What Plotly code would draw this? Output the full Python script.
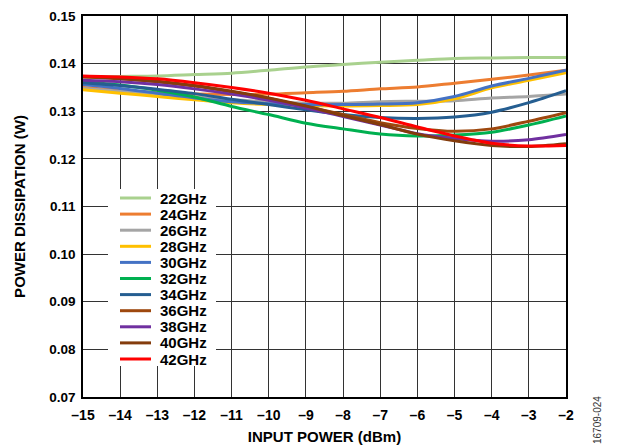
import plotly.graph_objects as go

x_dbm = [-15, -14, -13, -12, -11, -10, -9, -8, -7, -6, -5, -4, -3, -2]

series_names = ["22GHz", "24GHz", "26GHz", "28GHz", "30GHz", "32GHz",
                "34GHz", "36GHz", "38GHz", "40GHz", "42GHz"]

p22 = [0.1372, 0.1373, 0.1374, 0.1377, 0.1380, 0.1386, 0.1393, 0.1398, 0.1403, 0.1407, 0.1411, 0.1412, 0.1413, 0.1413]
p24 = [0.1350, 0.1344, 0.1339, 0.1336, 0.1335, 0.1336, 0.1339, 0.1342, 0.1347, 0.1351, 0.1359, 0.1367, 0.1376, 0.1386]
p26 = [0.1348, 0.1342, 0.1336, 0.1330, 0.1324, 0.1320, 0.1317, 0.1317, 0.1320, 0.1321, 0.1322, 0.1328, 0.1331, 0.1336]
p28 = [0.1345, 0.1338, 0.1331, 0.1324, 0.1318, 0.1314, 0.1312, 0.1311, 0.1312, 0.1314, 0.1326, 0.1349, 0.1365, 0.1381]
p30 = [0.1356, 0.1348, 0.1338, 0.1328, 0.1320, 0.1316, 0.1314, 0.1314, 0.1315, 0.1318, 0.1331, 0.1353, 0.1369, 0.1386]
p32 = [0.1362, 0.1355, 0.1344, 0.1330, 0.1310, 0.1293, 0.1275, 0.1263, 0.1252, 0.1248, 0.1250, 0.1256, 0.1271, 0.1290]
p34 = [0.1360, 0.1354, 0.1346, 0.1337, 0.1325, 0.1314, 0.1303, 0.1293, 0.1287, 0.1285, 0.1288, 0.1298, 0.1318, 0.1343]
p36 = [0.1372, 0.1368, 0.1362, 0.1353, 0.1341, 0.1327, 0.1310, 0.1293, 0.1276, 0.1264, 0.1258, 0.1263, 0.1279, 0.1297]
p38 = [0.1365, 0.1362, 0.1356, 0.1347, 0.1336, 0.1323, 0.1307, 0.1289, 0.1271, 0.1253, 0.1243, 0.1237, 0.1240, 0.1251]
p40 = [0.1373, 0.1369, 0.1363, 0.1354, 0.1342, 0.1328, 0.1311, 0.1291, 0.1272, 0.1252, 0.1238, 0.1228, 0.1226, 0.1232]
p42 = [0.1374, 0.1372, 0.1368, 0.1360, 0.1350, 0.1338, 0.1323, 0.1305, 0.1287, 0.1267, 0.1248, 0.1233, 0.1227, 0.1228]

series_values = [p22, p24, p26, p28, p30, p32, p34, p36, p38, p40, p42]
series_colors = ["#A9D18E", "#ED7D31", "#A5A5A5", "#FFC000", "#4472C4", "#00B050",
                 "#255E91", "#9E480E", "#7030A0", "#843C0C", "#FF0000"]

x_ticks = [-15, -14, -13, -12, -11, -10, -9, -8, -7, -6, -5, -4, -3, -2]
x_ticktext = ["\u201315", "\u201314", "\u201313", "\u201312", "\u201311", "\u201310", "\u20139",
              "\u20138", "\u20137", "\u20136", "\u20135", "\u20134", "\u20133", "\u20132"]
y_ticks = [0.07, 0.08, 0.09, 0.10, 0.11, 0.12, 0.13, 0.14, 0.15]

FONT = "Arial, 'Liberation Sans', sans-serif"
OFF = 8                      # page body margin of the html page
W, H = 626 - OFF, 448 - OFF
ML, MT = 83 - OFF, 16 - OFF
PW, PH = 483, 381
MR, MB = W - ML - PW, H - MT - PH


def px_x(px):
    # window pixel -> paper fraction
    return (px - OFF - ML) / PW


def px_y(py):
    return (MT + PH - (py - OFF)) / PH


fig = go.Figure()
for name, vals, col in zip(series_names, series_values, series_colors):
    fig.add_trace(go.Scatter(x=x_dbm, y=vals, name=name, mode="lines",
                             line=dict(color=col, width=3, shape="spline", smoothing=0.8)))

fig.update_layout(
    width=W, height=H,
    margin=dict(l=ML, r=MR, t=MT, b=MB, pad=0),
    paper_bgcolor="white", plot_bgcolor="white",
    font=dict(family=FONT, size=12, color="black"),
    showlegend=False,
    xaxis=dict(range=[-15, -2], tickvals=x_ticks, ticktext=x_ticktext,
               showgrid=True, gridcolor="#333333", gridwidth=1,
               showline=True, linecolor="black", linewidth=1.5, mirror=True,
               ticks="", zeroline=False, automargin=False, ticklabelstandoff=4,
               ticklabeloverflow="allow",
               tickfont=dict(family=FONT, size=14, color="black", weight="bold"),
               title=dict(text="INPUT POWER (dBm)", standoff=10,
                          font=dict(family=FONT, size=15, color="black", weight="bold"))),
    yaxis=dict(range=[0.07, 0.15], tickvals=y_ticks, tickformat=".2f",
               showgrid=True, gridcolor="#333333", gridwidth=1,
               showline=True, linecolor="black", linewidth=1.5, mirror=True,
               ticks="", zeroline=False, automargin=False, ticklabelstandoff=3,
               ticklabeloverflow="allow",
               tickfont=dict(family=FONT, size=13.5, color="black", weight="bold"),
               title=dict(text="POWER DISSIPATION (W)", standoff=20,
                          font=dict(family=FONT, size=15, color="black", weight="bold"))),
)

# legend drawn as a compact box (white background over the grid)
fig.add_shape(type="rect", xref="paper", yref="paper",
              x0=px_x(108), x1=px_x(216), y0=px_y(366), y1=px_y(189),
              fillcolor="white", line=dict(width=0), layer="above")
leg_top, leg_step = 198, 16.1
for i, (name, col) in enumerate(zip(series_names, series_colors)):
    yc = px_y(leg_top + i * leg_step)
    fig.add_shape(type="line", xref="paper", yref="paper",
                  x0=px_x(120), x1=px_x(151), y0=yc, y1=yc,
                  line=dict(color=col, width=3), layer="above")
    fig.add_annotation(text=name, xref="paper", yref="paper",
                       x=px_x(158), y=yc, xanchor="left", yanchor="middle",
                       showarrow=False,
                       font=dict(family=FONT, size=15, color="black", weight="bold"))

fig.add_annotation(text="16709-024", xref="paper", yref="paper",
                   x=px_x(597), y=px_y(420), xanchor="center", yanchor="middle",
                   textangle=-90, showarrow=False,
                   font=dict(family=FONT, size=10, color="#333333"))

fig.write_html("out.html")
